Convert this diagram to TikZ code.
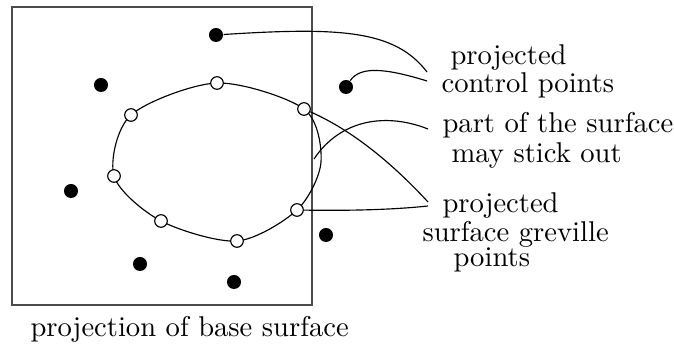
\documentclass[tikz,border=0pt]{standalone}
\begin{document}
\begin{tikzpicture}[x=0.3497pt, y=-0.3497pt,
    cp/.style={circle, fill, inner sep=0pt, minimum size=4.9pt},
    gv/.style={circle, draw, fill=white, inner sep=0pt, minimum size=4.4pt},
    lbl/.style={anchor=base west, inner sep=0pt}]
  \useasboundingbox (0,0) rectangle (674,347);
  \draw[black!70] (12,7) rectangle (312,305);
  \node[lbl] (base) at (30,337) {projection of base surface};
  \foreach \x/\y [count=\i] in {216/35,101/85,71/191,140/264,234/282,326/235,346/87}
    \node[cp] (cp\i) at (\x,\y) {};
  \draw plot[smooth cycle] coordinates {(217,83) (304,109) (321,162) (297,210) (237,241)
    (161,221) (114,176) (131,115)};
  \node[lbl] (pc1) at (450,65) {projected};
  \node[lbl] (pc2) at (441,93) {control points};
  \node[lbl] (ps1) at (442,133) {part of the surface};
  \node[lbl] (ps2) at (451,163) {may stick out};
  \node[lbl] (pg1) at (442,213) {projected};
  \node[lbl] (pg2) at (422,242) {surface greville};
  \node[lbl] (pg3) at (453,267) {points};
  \coordinate (e1) at (427,72);
  \coordinate (e2) at (427,81);
  \coordinate (e3) at (428,129);
  \coordinate (e4) at (428,202);
  \coordinate (e5) at (428,206);
  \coordinate (s) at (314,159);
  \foreach \x/\y [count=\i] in {217/83,304/109,297/210,237/241,161/221,114/176,131/115}
    \node[gv] (g\i) at (\x,\y) {};
  \draw (cp1) .. controls (340,27) and (395,30) .. (e1);
  \draw (cp7) .. controls (360,66) and (385,68) .. (e2);
  \draw (s) .. controls (340,120) and (385,112) .. (e3);
  \draw (g2) .. controls (340,125) and (380,150) .. (e4);
  \draw (g3) .. controls (360,211) and (400,209) .. (e5);
\end{tikzpicture}
\end{document}
